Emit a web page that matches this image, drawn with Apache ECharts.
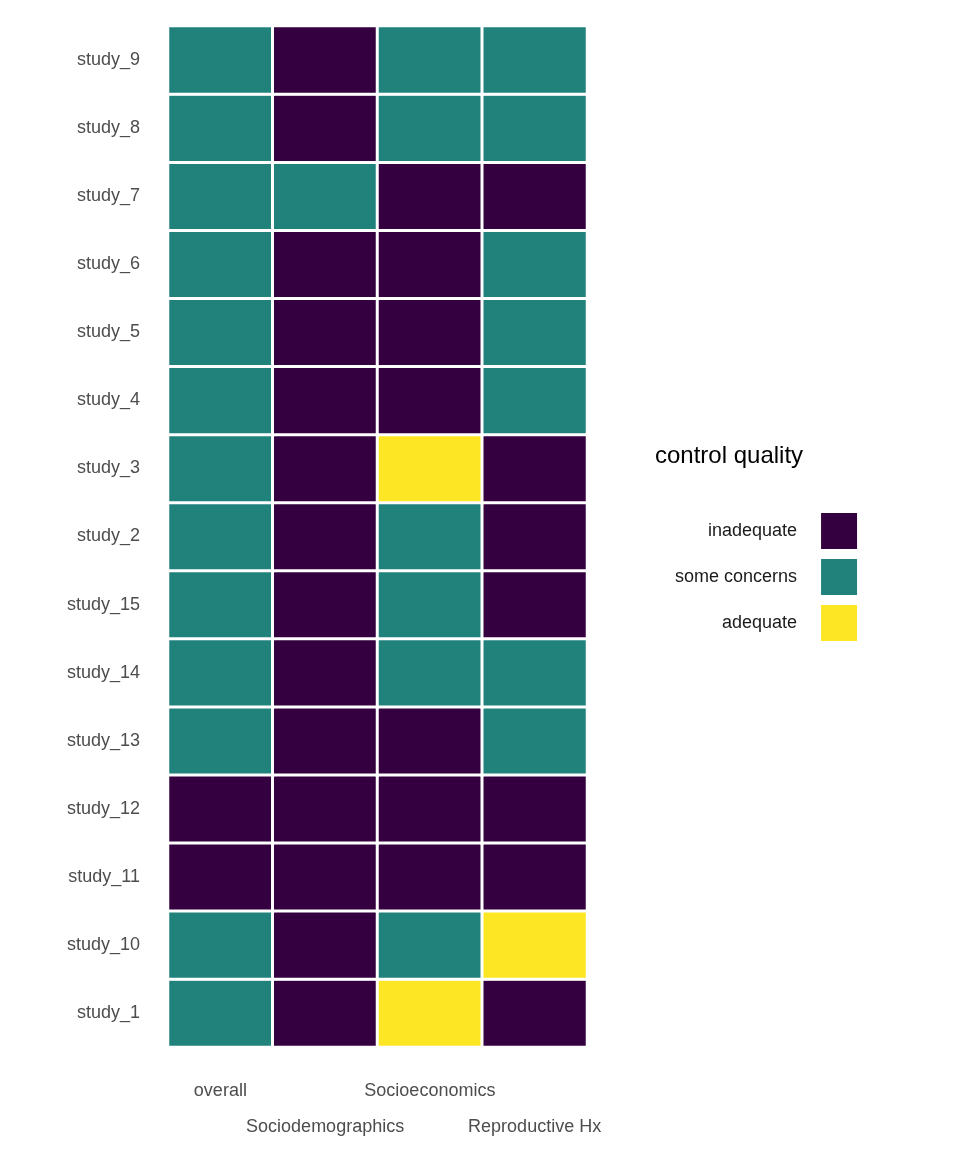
<!DOCTYPE html>
<html>
<head>
<meta charset="utf-8">
<script src="https://cdn.jsdelivr.net/npm/echarts@6/dist/echarts.min.js"></script>
<style>html,body{margin:0;background:#fff}#chart{width:960px;height:1152px}</style>
</head>
<body>
<div id="chart"></div>
<script>
var domains = ['overall', 'Sociodemographics', 'Socioeconomics', 'Reproductive Hx'];
var studies = ['study_1', 'study_10', 'study_11', 'study_12', 'study_13', 'study_14', 'study_15',
    'study_2', 'study_3', 'study_4', 'study_5', 'study_6', 'study_7', 'study_8', 'study_9'];
var levels = ['inadequate', 'some concerns', 'adequate'];
// quality per study (same order as studies), one value per domain: 0 inadequate, 1 some concerns, 2 adequate
var quality = [
    [1, 0, 2, 0],
    [1, 0, 1, 2],
    [0, 0, 0, 0],
    [0, 0, 0, 0],
    [1, 0, 0, 1],
    [1, 0, 1, 1],
    [1, 0, 1, 0],
    [1, 0, 1, 0],
    [1, 0, 2, 0],
    [1, 0, 0, 1],
    [1, 0, 0, 1],
    [1, 0, 0, 1],
    [1, 1, 0, 0],
    [1, 0, 1, 1],
    [1, 0, 1, 1]
];
var colors = ['#35003f', '#21827c', '#fde725'];

var cells = [];
quality.forEach(function (row, y) {
    row.forEach(function (v, x) { cells.push([x, y, v]); });
});

var chart = echarts.init(document.getElementById('chart'));
chart.setOption({
    animation: false,
    grid: { left: 168, right: 373, top: 26, bottom: 105 },
    xAxis: {
        type: 'category', data: domains,
        axisLine: { show: false }, axisTick: { show: false }, splitLine: { show: false },
        axisLabel: {
            color: '#4d4d4d', fontSize: 18, fontFamily: 'Liberation Sans', margin: 26, lineHeight: 36,
            interval: 0,
            formatter: function (v, i) { return i % 2 ? '\n' + v : v; }
        }
    },
    yAxis: {
        type: 'category', data: studies,
        axisLine: { show: false }, axisTick: { show: false }, splitLine: { show: false },
        axisLabel: { color: '#4d4d4d', fontSize: 18, fontFamily: 'Liberation Sans', margin: 28 }
    },
    visualMap: {
        type: 'piecewise',
        categories: [0, 1, 2],
        dimension: 2,
        inRange: { color: colors },
        formatter: function (v) { return levels[v]; },
        orient: 'vertical',
        left: 660, top: 498,
        itemWidth: 36, itemHeight: 36, itemGap: 10, itemSymbol: 'rect',
        selectedMode: false,
        textGap: 24,
        textStyle: { fontSize: 18, color: '#1a1a1a', fontFamily: 'Liberation Sans' }
    },
    graphic: [{
        type: 'text', left: 655, top: 444,
        style: { text: 'control quality', fontSize: 24, fill: '#000', fontFamily: 'Liberation Sans' }
    }],
    series: [{
        type: 'heatmap',
        data: cells,
        itemStyle: { borderColor: '#fff', borderWidth: 3 }
    }]
});
</script>
</body>
</html>
